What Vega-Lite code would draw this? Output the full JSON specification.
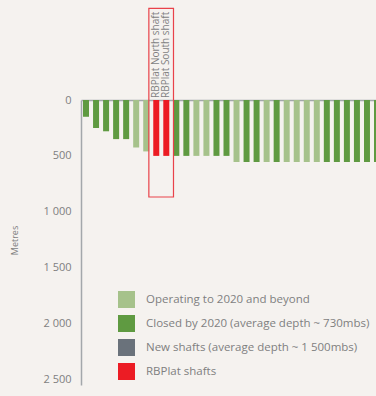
{
  "$schema": "https://vega.github.io/schema/vega-lite/v6.json",
  "autosize": {"type": "none"},
  "padding": {"left": 81, "top": 100, "right": 0, "bottom": 11},
  "width": 295,
  "height": 285,
  "background": "#f5f2ef",
  "config": {
    "view": {"stroke": null},
    "font": "Open Sans",
    "axis": {"labelColor": "#7f7f7f", "titleColor": "#7f7f7f", "domainColor": "#a3a7ab", "domainWidth": 1.5, "grid": false, "ticks": false},
    "legend": {"labelColor": "#7f7f7f"}
  },
  "data": {
    "values": [
      {"order": 1, "depth": 150, "status": "Closed by 2020 (average depth ~ 730mbs)", "name": ""},
      {"order": 2, "depth": 250, "status": "Closed by 2020 (average depth ~ 730mbs)", "name": ""},
      {"order": 3, "depth": 280, "status": "Closed by 2020 (average depth ~ 730mbs)", "name": ""},
      {"order": 4, "depth": 350, "status": "Closed by 2020 (average depth ~ 730mbs)", "name": ""},
      {"order": 5, "depth": 350, "status": "Closed by 2020 (average depth ~ 730mbs)", "name": ""},
      {"order": 6, "depth": 425, "status": "Operating to 2020 and beyond", "name": ""},
      {"order": 7, "depth": 460, "status": "Operating to 2020 and beyond", "name": ""},
      {"order": 8, "depth": 500, "status": "RBPlat shafts", "name": "RBPlat North shaft"},
      {"order": 9, "depth": 500, "status": "RBPlat shafts", "name": "RBPlat South shaft"},
      {"order": 10, "depth": 500, "status": "Closed by 2020 (average depth ~ 730mbs)", "name": ""},
      {"order": 11, "depth": 500, "status": "Closed by 2020 (average depth ~ 730mbs)", "name": ""},
      {"order": 12, "depth": 500, "status": "Operating to 2020 and beyond", "name": ""},
      {"order": 13, "depth": 500, "status": "Operating to 2020 and beyond", "name": ""},
      {"order": 14, "depth": 500, "status": "Closed by 2020 (average depth ~ 730mbs)", "name": ""},
      {"order": 15, "depth": 500, "status": "Closed by 2020 (average depth ~ 730mbs)", "name": ""},
      {"order": 16, "depth": 555, "status": "Operating to 2020 and beyond", "name": ""},
      {"order": 17, "depth": 555, "status": "Closed by 2020 (average depth ~ 730mbs)", "name": ""},
      {"order": 18, "depth": 555, "status": "Closed by 2020 (average depth ~ 730mbs)", "name": ""},
      {"order": 19, "depth": 555, "status": "Operating to 2020 and beyond", "name": ""},
      {"order": 20, "depth": 555, "status": "Closed by 2020 (average depth ~ 730mbs)", "name": ""},
      {"order": 21, "depth": 555, "status": "Operating to 2020 and beyond", "name": ""},
      {"order": 22, "depth": 555, "status": "Operating to 2020 and beyond", "name": ""},
      {"order": 23, "depth": 555, "status": "Operating to 2020 and beyond", "name": ""},
      {"order": 24, "depth": 555, "status": "Operating to 2020 and beyond", "name": ""},
      {"order": 25, "depth": 555, "status": "Closed by 2020 (average depth ~ 730mbs)", "name": ""},
      {"order": 26, "depth": 555, "status": "Closed by 2020 (average depth ~ 730mbs)", "name": ""},
      {"order": 27, "depth": 555, "status": "Closed by 2020 (average depth ~ 730mbs)", "name": ""},
      {"order": 28, "depth": 555, "status": "Closed by 2020 (average depth ~ 730mbs)", "name": ""},
      {"order": 29, "depth": 555, "status": "Closed by 2020 (average depth ~ 730mbs)", "name": ""},
      {"order": 30, "depth": 555, "status": "Closed by 2020 (average depth ~ 730mbs)", "name": ""}
    ]
  },
  "layer": [
    {
      "mark": {"type": "bar", "size": 6, "clip": true},
      "encoding": {
        "x": {"field": "order", "type": "quantitative", "scale": {"domain": [0.5, 29.9], "nice": false, "zero": false, "padding": 0},
              "axis": {"orient": "top", "labels": false, "title": null}},
        "y": {"field": "depth", "type": "quantitative",
              "scale": {"domain": [0, 2550], "reverse": true, "nice": false, "padding": 0},
              "axis": {"values": [0, 500, 1000, 1500, 2000, 2500], "labelFontSize": 11, "labelPadding": 10,
                       "labelExpr": "replace(format(datum.value, ','), ',', ' ')",
                       "title": "Metres", "titleFontSize": 9, "titleFontWeight": "normal", "titleX": -62, "titleY": 140}},
        "color": {"field": "status", "type": "nominal",
                  "scale": {"domain": ["Operating to 2020 and beyond", "Closed by 2020 (average depth ~ 730mbs)", "New shafts (average depth ~ 1 500mbs)", "RBPlat shafts"],
                            "range": ["#a6c28b", "#5f9a41", "#6a727b", "#ec1c24"]},
                  "legend": {"title": null, "orient": "none", "legendX": 37, "legendY": 191, "symbolType": "square", "symbolSize": 289,
                             "symbolStrokeWidth": 0, "rowPadding": 7, "labelOffset": 11, "labelFontSize": 11.5, "padding": 0, "labelLimit": 300}}
      }
    },
    {
      "transform": [{"filter": "datum.status === 'RBPlat shafts'"}],
      "mark": {"type": "rect", "fill": null, "filled": false, "stroke": "#e9424a", "strokeWidth": 1.2, "xOffset": -7.4, "x2Offset": 7.2},
      "encoding": {
        "x": {"field": "order", "type": "quantitative", "aggregate": "min"},
        "x2": {"field": "order", "aggregate": "max"},
        "y": {"datum": -820, "type": "quantitative"},
        "y2": {"datum": 868}
      }
    },
    {
      "transform": [{"filter": "datum.status === 'RBPlat shafts'"}],
      "mark": {"type": "text", "angle": 270, "align": "left", "baseline": "middle", "dx": 2, "fontSize": 10, "color": "#7f7f7f"},
      "encoding": {
        "x": {"field": "order", "type": "quantitative"},
        "y": {"datum": 0, "type": "quantitative"},
        "text": {"field": "name"}
      }
    }
  ]
}
